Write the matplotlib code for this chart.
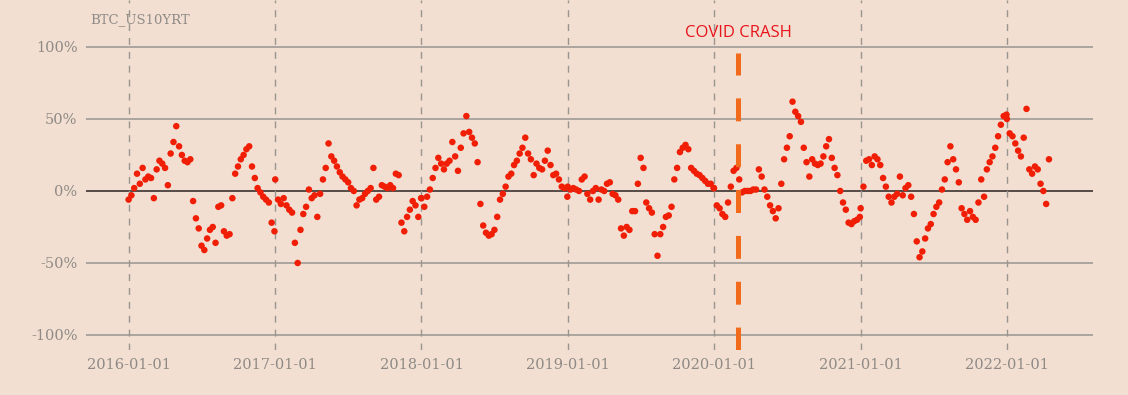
import pandas as pd
import matplotlib
matplotlib.use("Agg")
import matplotlib.pyplot as plt
import matplotlib.dates as mdates

# weekly readings of the BTC / US 10Y rolling correlation (%), one list per year
corr_2016 = [-6, -3, 2, 12, 5, 16, 8, 10, 9, -5, 15, 21, 19, 16, 4, 26, 34, 45, 31, 25,
             21, 20, 22, -7, -19, -26, -38, -41, -33, -27, -25, -36, -11, -10, -28, -31,
             -30, -5, 12, 17, 22, 25, 29, 31, 17, 9, 2, -1, -4, -6, -8, -22, -28]
corr_2017 = [8, -6, -9, -5, -10, -13, -15, -36, -50, -27, -16, -11, 1, -5, -3, -18, -2,
             8, 16, 33, 24, 21, 17, 13, 10, 8, 6, 2, 0, -10, -6, -5, -2, 0, 2, 16, -6,
             -4, 4, 3, 2, 4, 2, 12, 11, -22, -28, -18, -13, -7, -10, -18, -5]
corr_2018 = [-5, -11, -4, 1, 9, 16, 23, 19, 15, 19, 21, 34, 24, 14, 30, 40, 52, 41, 37,
             33, 20, -9, -24, -29, -31, -30, -27, -18, -6, -2, 3, 10, 12, 18, 21, 26, 30,
             37, 26, 22, 11, 19, 16, 15, 21, 28, 18, 11, 12, 8, 3, 2, -4]
corr_2019 = [3, 1, 2, 1, 0, 8, 10, -2, -6, 0, 2, -6, 1, 0, 5, 6, -2, -3, -6, -26, -31,
             -25, -27, -14, -14, 5, 23, 16, -8, -12, -15, -30, -45, -30, -25, -18, -17,
             -11, 8, 16, 27, 30, 32, 29, 16, 14, 12, 11, 9, 7, 5, 5, 2]
corr_2020 = [2, -10, -12, -16, -18, -8, 3, 14, 16, 8, -1, 0, 0, 0, 1, 1, 15, 10, 1, -4,
             -10, -14, -19, -12, 5, 22, 30, 38, 62, 55, 52, 48, 30, 20, 10, 22, 19, 18,
             19, 24, 31, 36, 23, 16, 11, 0, -8, -13, -22, -23, -21, -20, -18]
corr_2021 = [-12, 3, 21, 22, 18, 24, 22, 18, 9, 3, -4, -8, -4, -2, 10, -3, 2, 4, -4,
             -16, -35, -46, -42, -33, -26, -23, -16, -11, -8, 1, 8, 20, 31, 22, 15, 6,
             -12, -16, -20, -14, -18, -20, -8, 8, -4, 15, 20, 24, 30, 38, 46, 52, 53]
corr_2022 = [50, 40, 38, 33, 28, 24, 37, 57, 15, 12, 17, 15, 5, 0, -9, 22]

years = [2016, 2017, 2018, 2019, 2020, 2021, 2022]
series = [corr_2016, corr_2017, corr_2018, corr_2019, corr_2020, corr_2021, corr_2022]

dates = []
values = []
for yr, vals in zip(years, series):
    start = pd.Timestamp(f"{yr}-01-01")
    for k, v in enumerate(vals):
        dates.append(start + pd.Timedelta(days=7 * k))
        values.append(v)

covid_date = pd.Timestamp("2020-03-01")
bg = "#f2dfd1"
grey = "#8f8a86"

plt.rcParams["lines.scale_dashes"] = False
fig = plt.figure(figsize=(11.28, 3.95), dpi=100, facecolor=bg)
ax = fig.add_axes([0.076, 0.114, 0.893, 0.886])
ax.set_facecolor(bg)

ax.set_ylim(-110.4, 132.6)
ax.set_xlim(pd.Timestamp("2015-09-16"), pd.Timestamp("2022-08-04"))

for yv in [-100, -50, 50, 100]:
    ax.axhline(yv, color="#a09a95", lw=1.2, zorder=1)
ax.axhline(0, color="#2b2220", lw=1.1, zorder=1)

year_ticks = [pd.Timestamp(f"{y}-01-01") for y in years]
for t in year_ticks:
    ax.axvline(t, color="#9a9590", lw=1.0, ls=(0, (5, 5)), zorder=1)

ax.scatter(dates, values, s=22, color="#f01e05", edgecolors="none", zorder=3)

ax.plot([covid_date, covid_date], [-110.4, 95.8], color="#f26a1b", lw=3.6,
        ls=(0, (16.5, 16.5)), zorder=4, solid_capstyle="butt", dash_capstyle="butt")
ax.text(covid_date, 109.5, "COVID CRASH", color="#e8141c", fontsize=12,
        family="Open Sans", ha="center", va="center")

ax.text(0.004, 0.943, "BTC_US10YRT", transform=ax.transAxes, color=grey,
        fontsize=9.5, family="DejaVu Serif", ha="left", va="center")

ax.set_yticks([-100, -50, 0, 50, 100])
ax.set_yticklabels(["-100%", "-50%", "0%", "50%", "100%"])
ax.set_xticks(year_ticks)
ax.xaxis.set_major_formatter(mdates.DateFormatter("%Y-%m-%d"))
ax.tick_params(length=0, colors=grey, labelsize=10.5, pad=6)
for lab in ax.get_xticklabels() + ax.get_yticklabels():
    lab.set_family("DejaVu Serif")

for sp in ax.spines.values():
    sp.set_visible(False)

fig.savefig("out.png", dpi=100, facecolor=bg)
